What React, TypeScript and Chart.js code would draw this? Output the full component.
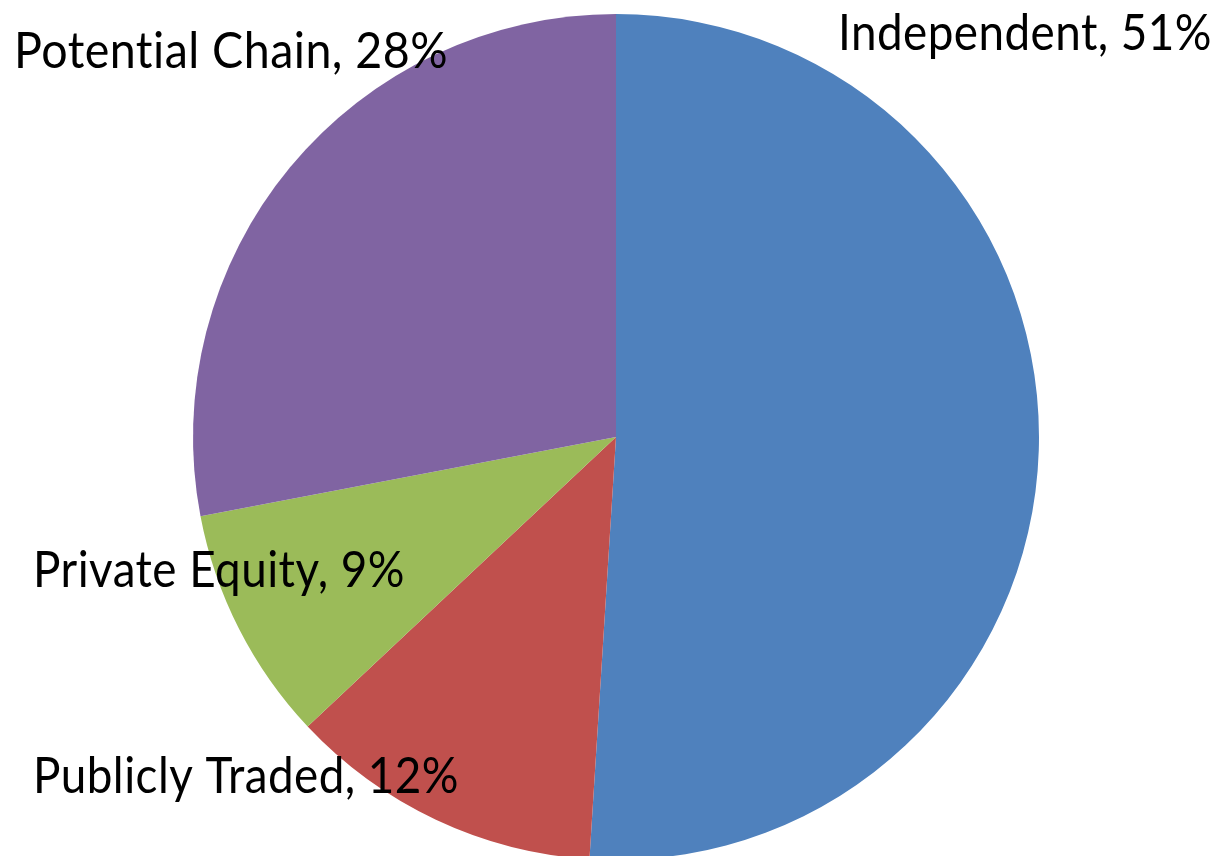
import React, { useEffect, useRef } from "react";
import { Chart, registerables } from "chart.js";

Chart.register(...registerables);

const categories = ["Independent", "Publicly Traded", "Private Equity", "Potential Chain"];
const shares = [51, 12, 9, 28];
const colors = ["#4F81BD", "#C0504D", "#9BBB59", "#8064A2"];

// label placement (left x, baseline y, target width) in canvas pixels
const labelLayout = [
  { x: 838, y: 50, w: 374 },
  { x: 33, y: 793, w: 426 },
  { x: 33, y: 587, w: 372 },
  { x: 14, y: 68, w: 434 },
];

const labelPlugin = {
  id: "sliceLabels",
  afterDraw(chart: any) {
    const ctx = chart.ctx;
    ctx.save();
    ctx.fillStyle = "#000000";
    ctx.font = "50px Lato";
    try {
      (ctx as any).letterSpacing = "0.5px";
    } catch (e) {}
    ctx.textBaseline = "alphabetic";
    ctx.textAlign = "left";
    categories.forEach((c, i) => {
      const text = `${c}, ${shares[i]}%`;
      const L = labelLayout[i];
      const m = ctx.measureText(text).width;
      ctx.save();
      ctx.translate(L.x, L.y);
      ctx.scale(L.w / m, 1);
      ctx.fillText(text, 0, 0);
      ctx.restore();
    });
    ctx.restore();
  },
};

export default function App() {
  const ref = useRef<HTMLCanvasElement | null>(null);
  useEffect(() => {
    if (!ref.current) return;
    const chart = new Chart(ref.current, {
      type: "pie",
      data: {
        labels: categories,
        datasets: [
          {
            data: shares,
            backgroundColor: colors,
            borderWidth: 0,
          },
        ],
      },
      options: {
        animation: false,
        responsive: false,
        layout: { padding: { left: 193, right: 181, top: 14, bottom: 12 } },
        plugins: { legend: { display: false }, tooltip: { enabled: false } },
      },
      plugins: [labelPlugin],
    });
    return () => chart.destroy();
  }, []);
  return (
    <div style={{ position: "fixed", top: 0, left: 0, width: 1220, height: 872, overflow: "hidden", background: "#fff" }}>
      <canvas ref={ref} width={1220} height={872} style={{ display: "block" }} />
    </div>
  );
}
